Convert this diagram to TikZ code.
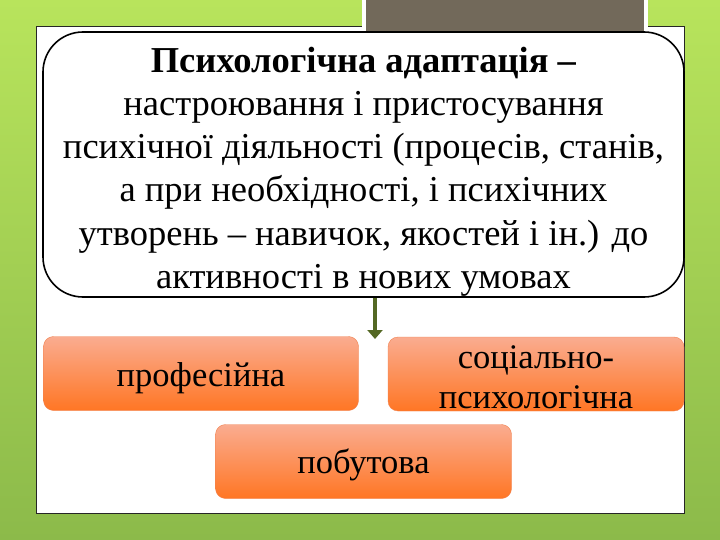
\documentclass[tikz,border=0pt]{standalone}
\usepackage{fontspec}
\setmainfont{Liberation Serif}
\usetikzlibrary{arrows.meta}
\definecolor{bgtop}{RGB}{184,228,92}
\definecolor{bgbot}{RGB}{140,186,74}
\definecolor{greybar}{RGB}{114,105,90}
\definecolor{arrowgreen}{RGB}{84,104,36}
\definecolor{orangetop}{RGB}{250,172,144}
\definecolor{orangebot}{RGB}{255,118,36}
\definecolor{orangeline}{RGB}{240,130,80}
\tikzset{
  panel/.style={fill=white,draw=black!85,line width=0.8pt},
  mainbox/.style={rectangle,fill=white,draw=black,line width=1.6pt,rounded corners=40pt,
    minimum width=641pt,minimum height=265pt,inner sep=0pt},
  maintext/.style={align=center,inner sep=0pt,font=\fontsize{36.5}{43.2}\selectfont},
  typebox/.style={rectangle,rounded corners=10pt,top color=orangetop,bottom color=orangebot,
    draw=orangeline,line width=0.4pt,minimum width=296pt,minimum height=74pt,inner sep=0pt},
  typetext/.style={align=center,inner sep=0pt,font=\fontsize{34.5}{40}\selectfont},
  flowarrow/.style={draw=arrowgreen,line width=4pt,-{Triangle[width=15pt,length=9pt]}}
}
\begin{document}
\begin{tikzpicture}[x=1pt,y=-1pt]
\useasboundingbox (0,0) rectangle (720,540);
\shade[top color=bgtop,bottom color=bgbot] (0,0) rectangle (720,540);
\draw[panel] (36,26) rectangle (684,513);
\fill[white] (362,0) rectangle (648,32);
\fill[greybar] (366,0) rectangle (644,32);
\node[mainbox] (main) at (363.5,164.5) {};
\node[maintext] (mainlabel) at (363.5,171.5) {\textbf{Психологічна адаптація –}\\
настроювання і пристосування\\
психічної діяльності (процесів, станів,\\
а при необхідності, і психічних\\
утворень – навичок, якостей і ін.) до\\
активності в нових умовах};
\node[typebox,minimum width=315pt] (prof) at (201,373.5) {};
\node[typetext] (proflabel) at (201,378) {професійна};
\node[typebox] (soc) at (536,374) {};
\node[typetext] (soclabel) at (536,377.5) {соціально-\\психологічна};
\node[typebox] (pob) at (363.5,461.5) {};
\node[typetext] (poblabel) at (363.5,464.5) {побутова};
\coordinate (arrEnd) at (375,339);
\draw[flowarrow] (main.south -| arrEnd) -- (arrEnd);
\end{tikzpicture}
\end{document}
